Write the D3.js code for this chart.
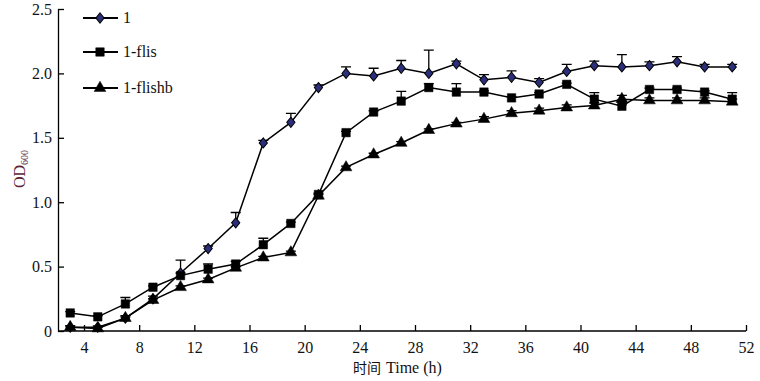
<!DOCTYPE html>
<html><head><meta charset="utf-8">
<script src="https://cdn.jsdelivr.net/npm/d3@7"></script>
<style>body{margin:0;background:#fff}svg{display:block;font-family:"Liberation Serif",serif}</style>
</head><body><svg id="c" width="760" height="381"></svg>
<script>
const times = [3,5,7,9,11,13,15,17,19,21,23,25,27,29,31,33,35,37,39,41,43,45,47,49,51];
const s1 = [0.03,0.03,0.10,0.25,0.45,0.64,0.84,1.46,1.62,1.89,2.00,1.98,2.04,2.00,2.075,1.95,1.97,1.93,2.015,2.06,2.05,2.06,2.09,2.05,2.05];
const s1err = [0.01,0.01,0.02,0.02,0.10,0.02,0.08,0.02,0.07,0.02,0.05,0.06,0.06,0.18,0.02,0.04,0.05,0.03,0.055,0.035,0.095,0.03,0.04,0.02,0.02];
const s2 = [0.14,0.11,0.21,0.34,0.43,0.48,0.52,0.67,0.835,1.06,1.54,1.70,1.785,1.89,1.855,1.855,1.81,1.84,1.915,1.80,1.745,1.875,1.875,1.855,1.80];
const s2err = [0.01,0.01,0.05,0.01,0.02,0.04,0.02,0.05,0.01,0.01,0.01,0.01,0.075,0.03,0.065,0.01,0.01,0.01,0.01,0.05,0.01,0.01,0.01,0.01,0.05];
const s3 = [0.03,0.02,0.10,0.24,0.34,0.40,0.49,0.57,0.61,1.05,1.27,1.37,1.46,1.56,1.61,1.645,1.69,1.71,1.735,1.75,1.80,1.79,1.79,1.79,1.78];
const s3err = [0.01,0.01,0.01,0.01,0.01,0.01,0.01,0.01,0.01,0.01,0.01,0.01,0.01,0.01,0.01,0.02,0.02,0.02,0.02,0.02,0.03,0.02,0.02,0.02,0.02];
const seriesNames = ["1","1-flis","1-flishb"];
const xTicks = [4,8,12,16,20,24,28,32,36,40,44,48,52];
const yTicks = [0,0.5,1.0,1.5,2.0,2.5];
const yTickLabels = ["0","0.5","1.0","1.5","2.0","2.5"];

const svg = d3.select("#c");
const x = d3.scaleLinear().domain([4,52]).range([84,746]);
const y = d3.scaleLinear().domain([0,2.5]).range([331,9]);
const x0 = 58;
const font = "Liberation Serif";

const xAxis = svg.append("g").attr("transform","translate(0,331)")
  .call(d3.axisBottom(x).tickValues(xTicks).tickSizeInner(-6).tickSizeOuter(0).tickPadding(8));
xAxis.select(".domain").attr("d", `M${x0},0H${x(52)}`);
const yAxis = svg.append("g").attr("transform",`translate(${x0},0)`)
  .call(d3.axisLeft(y).tickValues(yTicks).tickFormat((d,i)=>yTickLabels[i]).tickSizeInner(-6).tickSizeOuter(0).tickPadding(4));
[xAxis,yAxis].forEach(a=>a.attr("font-family",font).attr("font-size",16));
svg.selectAll(".tick text").attr("fill","#111");
svg.selectAll(".domain,.tick line").attr("stroke","#000").attr("stroke-width",1.3);
xAxis.selectAll(".tick text").attr("dy","0.9em");
yAxis.selectAll(".tick text").attr("dx","-2");

svg.append("text").attr("transform","translate(25,169) rotate(-90)")
  .attr("text-anchor","middle").attr("font-family",font).attr("font-size",16).attr("fill","#5a1f36")
  .html('OD<tspan font-size="10" dy="3">600</tspan>');
const xl = svg.append("text").attr("x",353).attr("y",373).attr("fill","#111");
xl.append("tspan").attr("font-family","Noto Sans CJK SC").attr("font-size",14).text("时间");
xl.append("tspan").attr("font-family",font).attr("font-size",16).attr("dx",5).text("Time (h)");

const sym = [
  d3.symbol().type(d3.symbolDiamond).size(30),
  d3.symbol().type(d3.symbolSquare).size(72),
  d3.symbol().type(d3.symbolTriangle).size(60)
];
const symScale = ["scale(1.4,1)","",""];
const fills = ["#2b2f7a","#000","#000"];
const allData = [[s1,s1err],[s2,s2err],[s3,s3err]];
const line = d3.line().x(d=>x(d.t)).y(d=>y(d.v));

allData.forEach(([vals,errs],k)=>{
  const data = times.map((t,i)=>({t,v:vals[i],e:errs[i]}));
  const g = svg.append("g");
  g.append("path").attr("d",line(data)).attr("fill","none").attr("stroke","#000").attr("stroke-width",1.5);
  g.selectAll(".eb").data(data).enter().append("path")
    .attr("d",d=>`M${x(d.t)},${y(d.v)}V${y(d.v+d.e)}M${x(d.t)-5},${y(d.v+d.e)}H${x(d.t)+5}`)
    .attr("stroke","#000").attr("stroke-width",1.3).attr("fill","none");
  g.selectAll(".m").data(data).enter().append("path")
    .attr("d",sym[k]).attr("transform",d=>`translate(${x(d.t)},${y(d.v)}) ${symScale[k]}`)
    .attr("fill",fills[k]).attr("stroke","#000").attr("stroke-width",k==0?0.8:0.5);
});

const legY = [18,52,88];
seriesNames.forEach((n,k)=>{
  const g = svg.append("g").attr("transform",`translate(0,${legY[k]})`);
  g.append("line").attr("x1",83).attr("x2",118).attr("stroke","#000").attr("stroke-width",1.8);
  g.append("path").attr("d",sym[k]).attr("transform",`translate(100,0) ${symScale[k]}`)
    .attr("fill",fills[k]).attr("stroke","#000").attr("stroke-width",k==0?0.8:0.5);
  g.append("text").attr("x",123).attr("y",5).attr("font-family",font).attr("font-size",16).attr("fill","#111").text(n);
});
</script></body></html>
